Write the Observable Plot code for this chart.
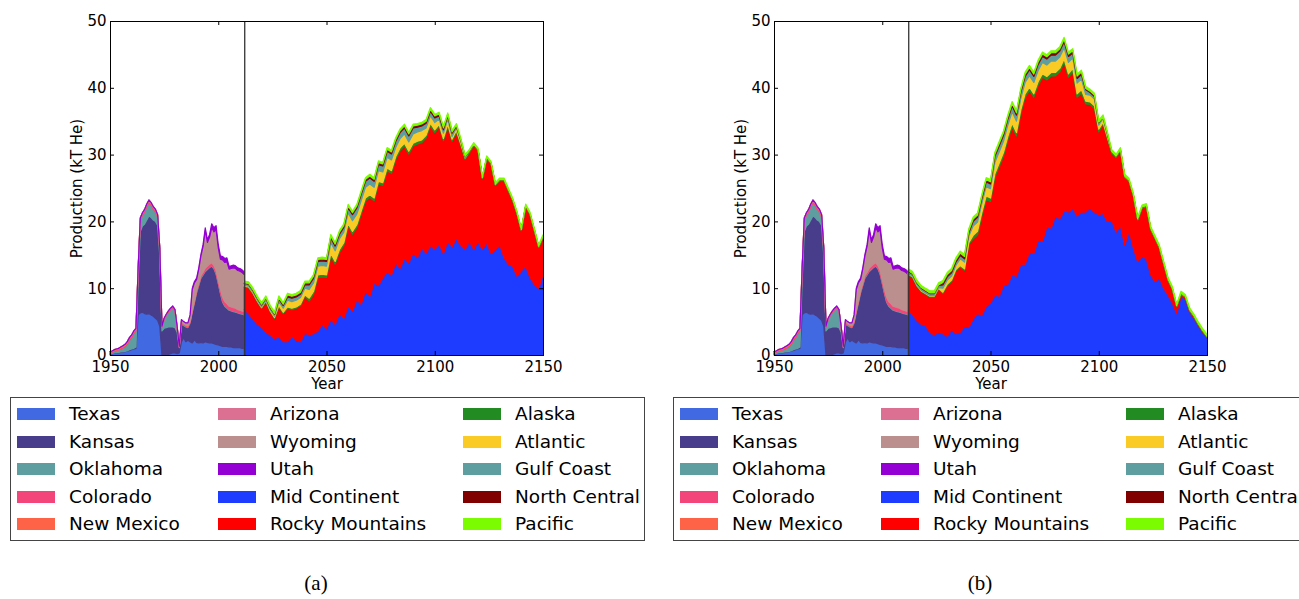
<!DOCTYPE html>
<html>
<head>
<meta charset="utf-8">
<script src="https://cdn.jsdelivr.net/npm/d3@7"></script>
<script src="https://cdn.jsdelivr.net/npm/@observablehq/plot@0.6"></script>
<style>
  html, body { margin: 0; padding: 0; background: white; }
  body { width: 1299px; height: 599px; overflow: hidden; position: relative; font-family: "DejaVu Sans", sans-serif; }
  .panel { position: absolute; top: 0; }
  .legend { position: absolute; top: 397px; width: 635px; height: 144px; box-sizing: border-box; border: 1px solid #444; background: white; }
  .item { position: absolute; height: 20px; }
  .sw { position: absolute; left: 0; top: 4px; width: 38px; height: 12px; }
  .lab { position: absolute; left: 52px; top: 0; line-height: 20px; font-size: 18.5px; white-space: nowrap; color: #000; }
  .cap { position: absolute; top: 568px; width: 60px; text-align: center; font-family: "Liberation Serif", "DejaVu Serif", serif; font-size: 21px; line-height: 30px; }
</style>
</head>
<body>
<div id="left" class="panel" style="left:0px"></div>
<div id="right" class="panel" style="left:664px"></div>
<div id="legA" class="legend" style="left:10px"></div>
<div id="legB" class="legend" style="left:673px"></div>
<div class="cap" style="left:286px">(a)</div>
<div class="cap" style="left:950px">(b)</div>
<script>
// ---------- categories & styling ----------
const stateNames = ["Texas", "Kansas", "Oklahoma", "Colorado", "New Mexico", "Arizona", "Wyoming", "Utah"];
const regionNames = ["Mid Continent", "Rocky Mountains", "Alaska", "Atlantic", "Gulf Coast", "North Central", "Pacific"];
const seriesColors = ["#4169E1", "#483D8B", "#5F9EA0", "#F4457A", "#FF6347", "#DB7093", "#BC8F8F", "#9400D3",
                      "#1E3CFF", "#FF0000", "#228B22", "#FACB24", "#5F9EA0", "#800000", "#7CFC00"];
const xTicks = [1950, 2000, 2050, 2100, 2150];
const yTicks = [0, 10, 20, 30, 40, 50];
const splitYear = 2012;
const histYears = d3.range(1950, 2013);        // 1950 ... 2012, yearly
const futYears = d3.range(2012, 2151, 2);      // 2012 ... 2150, every 2 years

// ---------- historical production by state (kT He), 1950-2012 ----------
const texas = [0.15,0.2,0.25,0.3,0.35,0.4,0.45,0.5,0.6,0.7,0.8,0.9,1.0,
  6.0,6.3,6.4,6.2,6.1,6.2,6.0,5.8,5.5,5.2,4.3,
  0,0,0,0.1,0.2,0.3,0.3,0.2,0.3,
  2.0,2.6,2.0,2.2,2.0,1.8,2.3,1.9,
  1.8,1.9,1.8,2.0,1.9,1.8,1.8,1.7,1.6,1.5,
  1.4,1.3,1.3,1.3,1.2,1.2,1.1,1.1,1.1,1.1,1.0,1.0];
const kansas = [0.05,0.05,0.05,0.05,0.05,0.05,0.05,0.05,0.05,0.1,0.1,0.1,0.2,
  5.0,12.2,12.9,13.4,14.1,14.6,14.6,14.4,14.5,14.2,10.5,
  3.6,4.0,4.1,4.1,4.0,3.9,3.8,3.2,0.8,
  2.6,1.8,2.2,1.9,2.8,4.6,5.5,7.4,
  8.6,9.6,10.2,10.5,10.9,11.3,11.5,11.2,10.5,9.2,
  7.8,6.6,6.0,5.7,5.5,5.4,5.4,5.3,5.2,5.1,5.1,5.0];
const oklahoma = [0.1,0.15,0.25,0.3,0.35,0.45,0.55,0.7,0.95,1.4,1.7,2.2,2.4,
  1.6,1.6,1.6,1.8,2.0,2.0,1.8,1.6,1.4,1.2,0.8,
  0.5,1.3,1.8,2.2,2.6,2.9,2.5,0.7,0.1,
  0.2,0.1,0.1,0.1,0.1,0.1,0.1,0.1,
  0.1,0.1,0.1,0.1,0.1,0.1,0.1,0.1,0.1,0.1,
  0.1,0.1,0.1,0.1,0.1,0.1,0.1,0.1,0.1,0.1,0.1,0.1];
const colorado = [0.1,0.1,0.1,0.1,0.1,0.15,0.15,0.15,0.2,0.2,0.2,0.2,0.2,
  0.2,0.2,0.2,0.2,0.2,0.2,0.2,0.2,0.2,0.2,0.2,
  0.1,0.1,0.1,0.1,0.1,0.1,0.1,0.1,0.05,
  0.1,0.1,0.1,0.1,0.1,0.2,0.2,0.3,
  0.3,0.3,0.3,0.4,0.4,0.4,0.4,0.4,0.5,0.5,
  0.6,0.7,0.6,0.6,0.5,0.5,0.5,0.5,0.4,0.4,0.4,0.4];
const newMexico = [0.1,0.1,0.15,0.15,0.15,0.15,0.2,0.2,0.2,0.2,0.2,0.2,0.2,
  0.2,0.2,0.2,0.2,0.2,0.2,0.2,0.2,0.2,0.2,0.2,
  0.1,0.1,0.1,0.1,0.1,0.1,0.1,0.1,0.05,
  0.1,0.1,0.1,0.1,0.1,0.1,0.1,0,
  0,0,0,0,0,0,0,0,0,0,
  0,0,0,0,0,0,0,0,0,0,0,0];
const arizona = [0,0,0,0,0,0,0,0,0,0,0,0,0,
  0,0,0,0,0,0,0,0,0,0,0,
  0,0,0,0,0,0,0,0,0,
  0,0,0,0,0,0,0,0,
  0.05,0.05,0.05,0.05,0.05,0.05,0.05,0.05,0.05,0.05,
  0.05,0.05,0.05,0.05,0.05,0.05,0.05,0.05,0.05,0.05,0.05,0.05];
const wyoming = [0,0,0,0,0,0,0,0,0,0,0,0,0,
  0,0,0,0,0,0,0,0,0,0,0,
  0,0,0,0,0,0,0,0,0,
  0.3,0.3,0.3,0.4,0.9,3.0,2.6,1.6,
  2.0,2.9,3.8,5.6,3.5,4.0,5.2,5.0,6.0,4.7,
  4.4,5.5,5.8,6.2,5.5,5.7,5.9,5.9,5.8,5.8,5.7,5.5];
const utah = [0,0,0,0,0,0,0,0,0,0,0,0,0,
  0,0,0,0,0,0,0,0,0,0,0,
  0,0,0,0,0,0,0,0,0,
  0,0,0,0,0,0.2,0.2,0.2,
  0.2,0.2,0.3,0.4,0.4,0.4,0.6,0.6,0.6,0.5,
  0.5,0.5,0.6,0.6,0.4,0.4,0.4,0.4,0.4,0.4,0.4,0.4];

// ---------- projection (a), 2012-2150 every 2 years ----------
const midContinentA = [6.8,6.2,5.4,4.6,4.2,3.4,3.0,2.4,2.8,2.0,
  2.0,2.8,2.2,2.0,3.3,3.0,3.2,3.6,4.5,4.0,
  5.3,4.6,6.2,5.5,7.3,6.6,8.3,7.6,9.6,8.8,
  10.8,10.4,11.6,12.4,12.0,13.8,13.0,14.5,13.8,15.3,
  14.6,16.0,15.2,16.4,15.8,16.6,15.2,17.0,16.2,17.5,
  16.4,15.8,17.0,15.8,17.0,15.8,16.8,15.2,15.8,16.5,
  14.6,13.6,13.3,11.8,12.6,13.3,11.6,10.6,10.0,12.0];
const rockyA = [3.4,3.9,3.8,3.4,2.8,4.6,3.5,3.1,4.4,4.2,
  5.0,4.0,4.8,5.4,5.5,5.1,5.9,8.0,7.2,7.6,
  9.5,9.0,9.2,10.9,12.0,11.5,10.8,13.5,13.5,14.8,
  12.3,15.2,13.8,15.2,15.2,15.5,17.6,16.8,16.3,16.0,
  17.0,15.8,17.3,17.9,17.5,17.6,16.9,17.2,15.8,15.8,
  15.0,13.5,13.3,15.6,13.6,10.6,12.6,13.4,9.6,9.6,
  11.5,11.0,9.8,9.3,6.0,8.9,9.4,8.0,6.1,5.6];
const alaskaA = [0.1,0.1,0.1,0.1,0.1,0.1,0.1,0.1,0.2,0.2,
  0.2,0.2,0.2,0.2,0.2,0.4,0.4,0.4,0.4,0.4,
  0.4,0.4,0.4,0.4,0.4,0.4,0.4,0.4,0.4,0.4,
  0.4,0.4,0.4,0.4,0.4,0.4,0.4,0.4,0.4,0.4,
  0.4,0.4,0.4,0.4,0.4,0.3,0.3,0.3,0.3,0.3,
  0.2,0.2,0.2,0.1,0.1,0.1,0.1,0.1,0.1,0.1,
  0.1,0.1,0.1,0.1,0.1,0.1,0.1,0.1,0.1,0.1];
const atlanticA = [0.1,0.1,0.1,0.1,0.1,0.1,0.2,0.2,0.6,0.6,
  1.0,1.0,1.0,1.0,1.0,1.3,1.3,1.3,1.3,1.3,
  1.6,1.6,1.6,1.6,1.6,1.6,1.6,1.6,1.6,1.6,
  1.6,1.6,1.6,1.6,1.6,1.4,1.4,1.4,1.4,1.4,
  1.4,1.4,1.1,1.1,1.1,0.8,0.8,0.8,0.4,0.4,
  0.4,0,0,0,0,0,0,0,0,0,
  0,0,0,0,0,0,0,0,0,0];
const gulfCoastA = [0.3,0.3,0.3,0.3,0.3,0.3,0.3,0.3,0.4,0.4,
  0.5,0.5,0.5,0.5,0.5,0.7,0.7,0.7,0.7,0.7,
  0.7,0.7,0.7,0.7,0.7,0.9,0.9,0.9,0.9,0.9,
  0.9,0.9,0.9,0.9,0.9,0.9,0.9,0.9,0.9,0.9,
  0.7,0.7,0.7,0.7,0.7,0.5,0.5,0.5,0.5,0.2,
  0.2,0.2,0,0,0,0,0,0,0,0,
  0,0,0,0,0,0,0,0,0,0];
const northCentralA = [0.1,0.1,0.1,0.1,0.1,0.1,0.1,0.1,0.2,0.2,
  0.3,0.3,0.3,0.3,0.3,0.3,0.3,0.3,0.3,0.3,
  0.3,0.3,0.3,0.3,0.3,0.3,0.3,0.3,0.3,0.3,
  0.3,0.3,0.3,0.3,0.3,0.3,0.3,0.3,0.3,0.3,
  0.3,0.3,0.3,0.3,0.3,0.3,0.3,0.2,0.2,0.2,
  0.05,0.05,0.05,0.05,0.05,0.05,0.05,0.05,0.05,0.05,
  0.05,0.05,0.05,0.05,0.05,0.05,0.05,0.05,0.05,0.05];
const pacificA = [0.25,0.25,0.25,0.25,0.25,0.25,0.25,0.25,0.25,0.25,
  0.25,0.25,0.25,0.25,0.25,0.25,0.25,0.25,0.25,0.25,
  0.25,0.25,0.25,0.25,0.25,0.25,0.25,0.25,0.25,0.25,
  0.25,0.25,0.25,0.25,0.25,0.25,0.25,0.25,0.25,0.25,
  0.25,0.25,0.25,0.25,0.25,0.25,0.25,0.25,0.25,0.25,
  0.25,0.25,0.25,0.25,0.25,0.25,0.25,0.25,0.25,0.25,
  0.25,0.25,0.25,0.25,0.25,0.25,0.25,0.25,0.25,0.25];

// ---------- projection (b), 2012-2150 every 2 years ----------
const midContinentB = [6.6,6.0,5.2,4.6,4.4,3.4,3.0,3.4,3.2,2.8,
  3.8,3.2,3.4,4.3,4.2,5.4,6.2,6.0,7.3,7.8,
  9.0,8.8,10.4,10.6,12.0,11.8,13.6,13.6,15.4,15.2,
  17.2,17.0,19.2,19.0,20.8,20.4,21.6,21.4,22.0,20.8,
  21.4,21.4,22.0,21.4,21.0,21.2,20.0,20.2,18.4,19.4,
  16.4,18.6,16.0,14.0,14.8,14.4,12.0,11.0,11.6,10.0,
  9.0,7.8,6.2,8.8,8.4,6.4,5.5,4.4,3.4,2.6];
const rockyB = [5.4,5.6,5.1,4.9,4.7,5.3,5.7,6.5,6.0,7.6,
  7.2,9.4,9.8,8.4,12.4,12.0,11.8,14.8,16.0,15.2,
  17.6,19.4,19.4,21.6,22.2,21.0,22.6,25.0,24.2,23.4,
  23.2,24.6,22.0,22.8,21.0,22.0,22.2,20.2,20.4,17.8,
  17.8,16.2,15.5,15.5,12.4,13.4,12.4,10.0,11.2,11.2,
  10.2,7.4,7.8,6.2,7.2,7.8,6.8,6.4,4.4,3.6,
  2.2,2.0,1.0,0.3,0.2,0.2,0.15,0.1,0.1,0.05];
const alaskaB = [0.1,0.1,0.1,0.1,0.1,0.1,0.1,0.1,0.2,0.2,
  0.2,0.2,0.2,0.2,0.2,0.5,0.5,0.5,0.5,0.5,
  0.5,0.5,0.5,0.5,0.5,0.5,0.5,0.5,0.5,0.5,
  0.5,0.5,0.5,0.5,0.5,0.5,0.5,0.5,0.5,0.5,
  0.5,0.4,0.4,0.4,0.4,0.2,0.2,0.2,0.1,0.1,
  0.1,0.1,0.1,0.1,0.1,0.1,0.1,0.1,0.1,0.1,
  0.1,0.1,0.1,0.1,0.1,0.1,0.1,0.1,0.1,0.1];
const atlanticB = [0.1,0.1,0.1,0.1,0.1,0.1,0.1,0.1,0.6,0.6,
  0.6,0.6,1.0,1.0,1.0,1.4,1.4,1.4,1.4,1.4,
  1.7,1.7,1.7,1.7,1.7,1.7,1.7,1.7,1.7,1.7,
  1.7,1.7,1.7,1.7,1.7,1.7,1.7,1.7,1.6,1.6,
  1.6,1.0,1.0,1.0,0.6,0.6,0.3,0,0,0,
  0,0,0,0,0,0,0,0,0,0,
  0,0,0,0,0,0,0,0,0,0];
const gulfCoastB = [0.3,0.3,0.3,0.3,0.3,0.3,0.3,0.3,0.5,0.5,
  0.5,0.5,0.5,0.5,0.5,0.7,0.7,0.7,0.7,0.7,
  0.9,0.9,0.9,0.9,0.9,0.9,0.9,0.9,0.9,0.9,
  0.9,0.9,0.9,0.9,0.9,0.9,0.9,0.9,0.7,0.7,
  0.7,0.7,0.4,0.4,0.4,0.2,0.2,0,0,0,
  0,0,0,0,0,0,0,0,0,0,
  0,0,0,0,0,0,0,0,0,0];
const northCentralB = [0.1,0.1,0.1,0.1,0.1,0.1,0.1,0.1,0.35,0.35,
  0.35,0.35,0.35,0.35,0.35,0.35,0.35,0.35,0.35,0.35,
  0.35,0.35,0.35,0.35,0.35,0.35,0.35,0.35,0.35,0.35,
  0.35,0.35,0.35,0.35,0.35,0.35,0.35,0.35,0.35,0.35,
  0.35,0.2,0.2,0.2,0.05,0.05,0.05,0.05,0.05,0.05,
  0.05,0.05,0.05,0.05,0.05,0.05,0.05,0.05,0.05,0.05,
  0.05,0.05,0.05,0.05,0.05,0.05,0.05,0.05,0.05,0.05];
const pacificB = [0.3,0.3,0.3,0.3,0.3,0.3,0.3,0.3,0.3,0.3,
  0.3,0.3,0.3,0.3,0.3,0.3,0.3,0.3,0.3,0.3,
  0.3,0.3,0.3,0.3,0.3,0.3,0.3,0.3,0.3,0.3,
  0.3,0.3,0.3,0.3,0.3,0.3,0.3,0.3,0.3,0.3,
  0.3,0.3,0.3,0.3,0.3,0.3,0.3,0.3,0.3,0.3,
  0.3,0.3,0.3,0.3,0.3,0.3,0.3,0.3,0.3,0.3,
  0.3,0.3,0.3,0.3,0.3,0.3,0.3,0.3,0.3,0.3];

// ---------- tables ----------
const allNames = stateNames.concat(regionNames);
function longTable(names, arrays, years) {
  const rows = [];
  names.forEach((n, k) => years.forEach((yr, i) => rows.push({year: yr, series: n, value: arrays[k][i]})));
  return rows;
}
const hist = longTable(stateNames, [texas, kansas, oklahoma, colorado, newMexico, arizona, wyoming, utah], histYears);
const futA = longTable(regionNames, [midContinentA, rockyA, alaskaA, atlanticA, gulfCoastA, northCentralA, pacificA], futYears);
const futB = longTable(regionNames, [midContinentB, rockyB, alaskaB, atlanticB, gulfCoastB, northCentralB, pacificB], futYears);

function panel(fut) {
  return Plot.plot({
    width: 560, height: 400,
    marginLeft: 110, marginRight: 17, marginTop: 21, marginBottom: 45,
    x: {domain: [1950, 2150]},
    y: {domain: [0, 50]},
    color: {domain: allNames, range: seriesColors},
    style: {fontFamily: "DejaVu Sans", fontSize: "15px", color: "black", background: "white", overflow: "visible"},
    marks: [
      Plot.areaY(hist, {x: "year", y: "value", z: "series", fill: "series", stroke: "series", strokeWidth: 1.2, order: stateNames}),
      Plot.areaY(fut, {x: "year", y: "value", z: "series", fill: "series", stroke: "series", strokeWidth: 1.2, order: regionNames}),
      Plot.ruleX([splitYear], {stroke: "#333", strokeWidth: 1.3}),
      Plot.ruleX(xTicks, {x: d => d, insetTop: 330, stroke: "black"}),
      Plot.ruleX(xTicks, {x: d => d, insetBottom: 330, stroke: "black"}),
      Plot.ruleY(yTicks, {y: d => d, insetRight: 429, stroke: "black"}),
      Plot.ruleY(yTicks, {y: d => d, insetLeft: 429, stroke: "black"}),
      Plot.frame({stroke: "black", strokeWidth: 1}),
      Plot.axisX({ticks: xTicks, tickSize: 0, tickPadding: 6, label: null, tickFormat: d => String(d)}),
      Plot.axisY({ticks: yTicks, tickSize: 0, tickPadding: 4, label: null}),
      Plot.text(["Year"], {text: d => d, frameAnchor: "bottom", lineAnchor: "middle", textAnchor: "middle", dy: 29, fontSize: 15}),
      Plot.text(["Production (kT He)"], {text: d => d, frameAnchor: "left", textAnchor: "middle", lineAnchor: "middle", rotate: -90, dx: -33, fontSize: 15})
    ]
  });
}
document.getElementById("left").appendChild(panel(futA));
document.getElementById("right").appendChild(panel(futB));

// ---------- legends ----------
function buildLegend(el) {
  const colLeft = [6, 207, 452];
  allNames.forEach((n, i) => {
    const col = Math.floor(i / 5), row = i % 5;
    const item = document.createElement("div");
    item.className = "item";
    item.style.left = colLeft[col] + "px";
    item.style.top = (6 + row * 27.5) + "px";
    const sw = document.createElement("div");
    sw.className = "sw";
    sw.style.background = seriesColors[i];
    const lab = document.createElement("div");
    lab.className = "lab";
    lab.textContent = n;
    item.appendChild(sw); item.appendChild(lab);
    el.appendChild(item);
  });
}
buildLegend(document.getElementById("legA"));
buildLegend(document.getElementById("legB"));
</script>
</body>
</html>
